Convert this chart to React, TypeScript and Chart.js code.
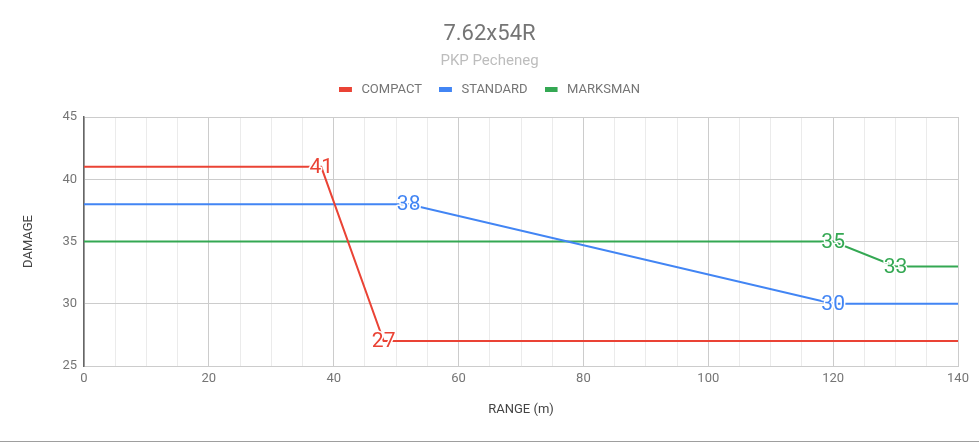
import { useEffect, useRef } from "react";
import { Chart, registerables } from "chart.js";

Chart.register(...registerables);

// range (m) / damage pairs per barrel
const compactRange = [0, 38, 48, 140];
const compactDamage = [41, 41, 27, 27];
const standardRange = [0, 52, 120, 140];
const standardDamage = [38, 38, 30, 30];
const marksmanRange = [0, 120, 130, 140];
const marksmanDamage = [35, 35, 33, 33];

// points that carry a value label
const labelIndices = [1, 2];

const seriesNames = ["COMPACT", "STANDARD", "MARKSMAN"];
const seriesColors = ["#ea4335", "#4285f4", "#34a853"];

const LEGEND_HEIGHT = 50.6;

const toPoints = (xs: number[], ys: number[]) => xs.map((x, i) => ({ x, y: ys[i] }));

// legend marker: a short bar with a bit of empty room on its right
function legendMarker(color: string) {
  const c = document.createElement("canvas");
  c.width = 16;
  c.height = 5;
  const g = c.getContext("2d")!;
  g.fillStyle = color;
  g.fillRect(0, 0, 13, 5);
  return c;
}

const legendSpacer = {
  id: "legendSpacer",
  beforeLayout(chart: any) {
    const legend = chart.legend;
    if (legend && !legend._spaced) {
      const fit = legend.fit.bind(legend);
      legend.fit = () => {
        fit();
        legend.height = LEGEND_HEIGHT;
      };
      legend._spaced = true;
    }
  },
};

const pointLabels = {
  id: "pointLabels",
  afterDatasetsDraw(chart: any) {
    const ctx = chart.ctx;
    ctx.save();
    ctx.font = "21px Roboto";
    ctx.textAlign = "center";
    ctx.textBaseline = "middle";
    ctx.lineJoin = "round";
    chart.data.datasets.forEach((ds: any, di: number) => {
      const meta = chart.getDatasetMeta(di);
      labelIndices.forEach((i) => {
        const el = meta.data[i];
        if (!el) return;
        const text = String(ds.data[i].y);
        ctx.strokeStyle = "#ffffff";
        ctx.lineWidth = 3;
        ctx.strokeText(text, el.x, el.y + 1);
        ctx.fillStyle = ds.borderColor;
        ctx.fillText(text, el.x, el.y + 1);
      });
    });
    ctx.restore();
  },
};

export default function App() {
  const canvasRef = useRef<HTMLCanvasElement>(null);

  useEffect(() => {
    document.body.style.margin = "0";
    const ctx = canvasRef.current?.getContext("2d");
    if (!ctx) return;

    const seriesData = [
      toPoints(compactRange, compactDamage),
      toPoints(standardRange, standardDamage),
      toPoints(marksmanRange, marksmanDamage),
    ];

    const chart = new Chart(ctx, {
      type: "line",
      data: {
        datasets: seriesNames.map((name, i) => ({
          label: name,
          data: seriesData[i],
          borderColor: seriesColors[i],
          backgroundColor: seriesColors[i],
          borderWidth: 2,
          pointRadius: 0,
          pointHoverRadius: 0,
          pointStyle: legendMarker(seriesColors[i]),
          tension: 0,
          fill: false,
        })),
      },
      options: {
        responsive: false,
        animation: false,
        layout: { padding: 0 },
        plugins: {
          title: {
            display: true,
            text: "7.62x54R",
            color: "#757575",
            font: { family: "Roboto", size: 22, weight: "normal" },
            padding: { top: 21, bottom: 0 },
          },
          subtitle: {
            display: true,
            text: "PKP Pecheneg",
            color: "#bdbdbd",
            font: { family: "Roboto", size: 15, weight: "normal", lineHeight: 0.667 },
            padding: { top: 9, bottom: 0 },
          },
          legend: {
            display: true,
            labels: {
              color: "#757575",
              font: { family: "Roboto", size: 13 },
              usePointStyle: true,
              pointStyleWidth: 16,
              boxHeight: 5,
              padding: 17,
            },
          },
          tooltip: { enabled: false },
        },
        scales: {
          x: {
            type: "linear",
            min: 0,
            max: 140,
            afterFit: (scale: any) => {
              scale.height = 75;
            },
            ticks: {
              stepSize: 5,
              autoSkip: false,
              maxRotation: 0,
              padding: 5,
              color: "#757575",
              font: { family: "Roboto", size: 13 },
              callback: (v: any) => (Number(v) % 20 === 0 ? String(v) : ""),
            },
            grid: {
              drawTicks: false,
              color: (c: any) => (c.tick && c.tick.value % 20 === 0 ? "#cccccc" : "#ebebeb"),
            },
            border: { color: "#cccccc" },
            title: {
              display: true,
              text: "RANGE (m)",
              color: "#444444",
              font: { family: "Roboto", size: 13 },
              padding: { top: 0, bottom: 23 },
            },
          },
          y: {
            min: 25,
            max: 45,
            afterFit: (scale: any) => {
              scale.width = 84;
            },
            ticks: {
              stepSize: 5,
              padding: 7,
              color: "#757575",
              font: { family: "Roboto", size: 13 },
            },
            grid: { drawTicks: false, color: "#cccccc" },
            border: { color: "#666666", width: 1.5 },
            title: {
              display: true,
              text: "DAMAGE",
              color: "#444444",
              font: { family: "Roboto", size: 13 },
              padding: { top: 21, bottom: 0 },
            },
          },
          // empty right-hand gutter so the plot ends short of the edge
          gutter: {
            type: "linear",
            position: "right",
            afterFit: (scale: any) => {
              scale.width = 21;
            },
            ticks: { display: false },
            grid: { display: false, drawOnChartArea: false },
            border: { display: false },
          },
        },
      },
      plugins: [legendSpacer, pointLabels],
    });

    return () => chart.destroy();
  }, []);

  return (
    <div style={{ width: 979, height: 441, borderBottom: "1px solid #9e9e9e", background: "#fff" }}>
      <canvas ref={canvasRef} width={979} height={441} />
    </div>
  );
}
